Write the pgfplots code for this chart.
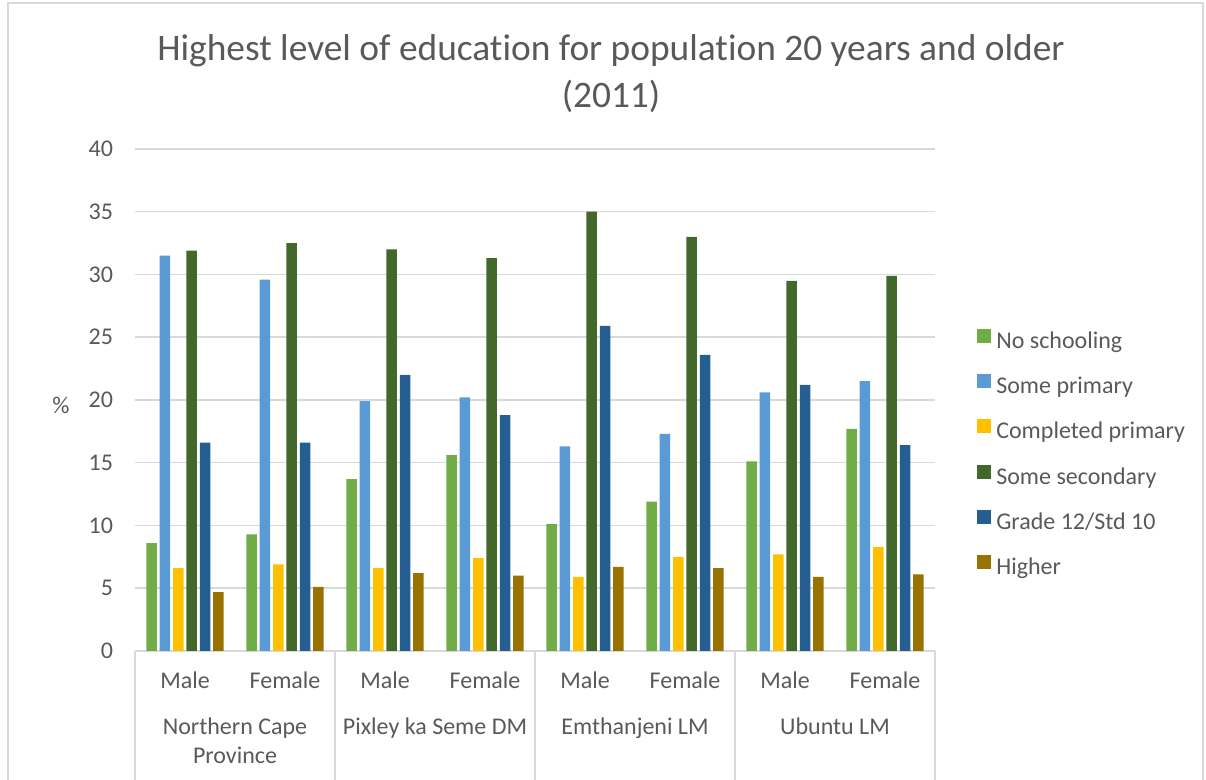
\documentclass[border=0pt]{standalone}
\usepackage{pgfplots}
\pgfplotsset{compat=1.18}
\usepackage{fontspec}
\setmainfont{Carlito}[Ligatures=CommonOff]
\definecolor{cA}{HTML}{70AD47}
\definecolor{cB}{HTML}{5B9BD5}
\definecolor{cC}{HTML}{FFC000}
\definecolor{cD}{HTML}{43682B}
\definecolor{cE}{HTML}{255E91}
\definecolor{cF}{HTML}{997300}
\definecolor{txt}{HTML}{595959}
\definecolor{gridc}{HTML}{D9D9D9}
\begin{document}
\begin{tikzpicture}
\path[use as bounding box] (0,0) rectangle (603pt,390pt);
\draw[gridc, line width=0.75pt] (4pt,-5pt) rectangle (601.5pt,388.5pt);
\node[text=txt, font=\fontsize{18.7}{22}\selectfont, anchor=base] at (305.5pt,359.8pt) {Highest level of education for population 20 years and older};
\node[text=txt, font=\fontsize{18.7}{22}\selectfont, anchor=base] at (305.5pt,336.2pt) {(2011)};
\node[text=txt, font=\fontsize{12}{14}\selectfont] at (30.5pt,187.5pt) {\%};
\begin{axis}[
  at={(67.5pt,64.5pt)}, anchor=south west, scale only axis,
  width=400pt, height=251pt,
  ymin=0, ymax=40, ytick={0,5,...,40},
  xmin=-0.5, xmax=7.5,
  xtick={0,...,7},
  xticklabels={Male,Female,Male,Female,Male,Female,Male,Female},
  major tick length=0pt,
  axis lines*=left,
  y axis line style={draw=none},
  x axis line style={gridc, line width=0.75pt},
  ymajorgrids, grid style={gridc, line width=0.75pt},
  ticklabel style={font=\fontsize{12}{14}\selectfont, text=txt},
  /pgf/number format/assume math mode=true,
  yticklabel style={anchor=east, xshift=-7.5pt},
  xticklabel style={anchor=base, yshift=-19pt},
  ybar=1.42pt, bar width=5.25pt,
  clip=false,
  legend style={at={(1.052,0.392)}, anchor=west, draw=none, fill=none, inner sep=0pt,
    row sep=10.3pt, column sep=2.65pt, font=\fontsize{12}{14}\selectfont, text=txt,
    nodes={inner sep=0pt, text height=8pt, text depth=2.5pt}},
  legend cell align=left,
  legend image code/.code={\fill[#1] (0pt,0pt) rectangle (7pt,7pt);},
]
\addplot[fill=cA, draw=none] coordinates {(0,8.6) (1,9.3) (2,13.7) (3,15.6) (4,10.1) (5,11.9) (6,15.1) (7,17.7)};
\addplot[fill=cB, draw=none] coordinates {(0,31.5) (1,29.6) (2,19.9) (3,20.2) (4,16.3) (5,17.3) (6,20.6) (7,21.5)};
\addplot[fill=cC, draw=none] coordinates {(0,6.6) (1,6.9) (2,6.6) (3,7.4) (4,5.9) (5,7.5) (6,7.7) (7,8.3)};
\addplot[fill=cD, draw=none] coordinates {(0,31.9) (1,32.5) (2,32.0) (3,31.3) (4,35.0) (5,33.0) (6,29.5) (7,29.9)};
\addplot[fill=cE, draw=none] coordinates {(0,16.6) (1,16.6) (2,22.0) (3,18.8) (4,25.9) (5,23.6) (6,21.2) (7,16.4)};
\addplot[fill=cF, draw=none] coordinates {(0,4.7) (1,5.1) (2,6.2) (3,6.0) (4,6.7) (5,6.6) (6,5.9) (7,6.1)};
\legend{No schooling, Some primary, Completed primary, Some secondary, Grade 12/Std 10, Higher}
\pgfplotsinvokeforeach{-0.5,1.5,3.5,5.5,7.5}{
  \draw[gridc, line width=0.75pt] (axis cs:#1,0) -- ++(0pt,-66pt);
}
\node[text=txt, font=\fontsize{12}{14}\selectfont, anchor=base] at ([yshift=-42pt]axis cs:0.5,0) {Northern Cape};
\node[text=txt, font=\fontsize{12}{14}\selectfont, anchor=base] at ([yshift=-56.5pt]axis cs:0.5,0) {Province};
\node[text=txt, font=\fontsize{12}{14}\selectfont, anchor=base] at ([yshift=-42pt]axis cs:2.5,0) {Pixley ka Seme DM};
\node[text=txt, font=\fontsize{12}{14}\selectfont, anchor=base] at ([yshift=-42pt]axis cs:4.5,0) {Emthanjeni LM};
\node[text=txt, font=\fontsize{12}{14}\selectfont, anchor=base] at ([yshift=-42pt]axis cs:6.5,0) {Ubuntu LM};
\end{axis}
\end{tikzpicture}
\end{document}
